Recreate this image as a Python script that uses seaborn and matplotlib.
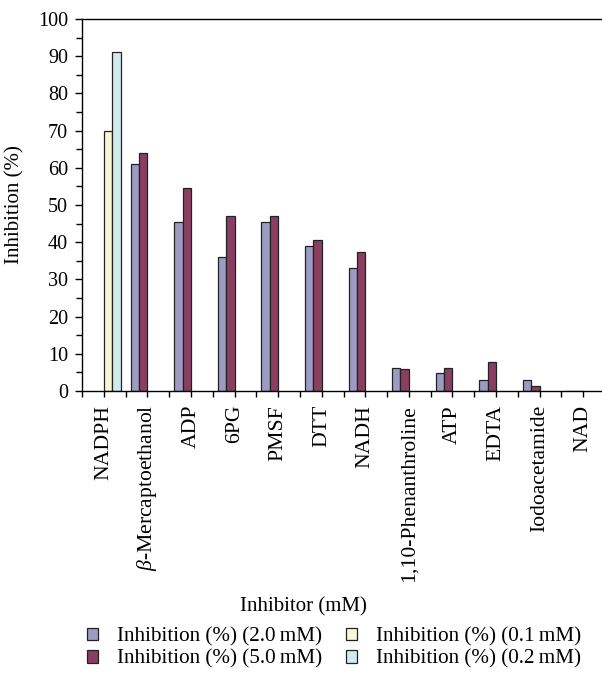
from __future__ import annotations

import matplotlib
matplotlib.use("Agg")
import matplotlib.pyplot as plt
import numpy as np
import pandas as pd
import seaborn as sns
from matplotlib.ticker import MultipleLocator

# --- data --------------------------------------------------------------
inhibitors = [
    "NADPH", r"$\beta$-Mercaptoethanol", "ADP", "6PG", "PMSF", "DTT", "NADH",
    "1,10-Phenanthroline", "ATP", "EDTA", "Iodoacetamide", "NAD",
]
series_names = [
    "Inhibition (%) (2.0\u2009mM)",
    "Inhibition (%) (5.0\u2009mM)",
    "Inhibition (%) (0.1\u2009mM)",
    "Inhibition (%) (0.2\u2009mM)",
]
nan = np.nan
inhib_2_0mM = [nan, 61.0, 45.5, 36.0, 45.5, 39.0, 33.0, 6.3, 4.8, 3.0, 3.0, 0.0]
inhib_5_0mM = [nan, 64.0, 54.7, 47.0, 47.0, 40.5, 37.5, 6.0, 6.3, 7.8, 1.4, 0.0]
inhib_0_1mM = [70.0, nan, nan, nan, nan, nan, nan, nan, nan, nan, nan, nan]
inhib_0_2mM = [91.0, nan, nan, nan, nan, nan, nan, nan, nan, nan, nan, nan]

colors = ["#9595c9", "#963262", "#fdfbd0", "#cdeef0"]


def build_frame() -> pd.DataFrame:
    rows = []
    for name, values in zip(series_names,
                            [inhib_2_0mM, inhib_5_0mM, inhib_0_1mM, inhib_0_2mM]):
        for inh, v in zip(inhibitors, values):
            rows.append({"Inhibitor": inh, "Series": name, "Inhibition": v})
    return pd.DataFrame(rows)


def set_style() -> None:
    sns.set_theme(style="ticks")
    plt.rcParams.update({
        "font.family": ["Liberation Serif", "DejaVu Serif"],
        "mathtext.fontset": "custom",
        "mathtext.rm": "Liberation Serif",
        "mathtext.it": "Liberation Serif:italic",
        "axes.linewidth": 1.0,
        "axes.edgecolor": "black",
        "text.color": "black",
        "axes.labelcolor": "black",
        "xtick.color": "black",
        "ytick.color": "black",
    })


def build_figure(df: pd.DataFrame) -> plt.Figure:
    fig = plt.figure(figsize=(6.02, 6.76), dpi=100)
    ax = fig.add_axes([82 / 602, 285 / 676, 523 / 602, 372 / 676])

    sns.barplot(
        data=df, x="Inhibitor", y="Inhibition", hue="Series",
        order=inhibitors, hue_order=series_names, palette=colors,
        width=0.77, edgecolor="#222222", linewidth=0.9, ax=ax,
    )

    ax.set_xlim(-0.5, len(inhibitors) - 0.5)
    ax.set_ylim(0, 100)
    ax.yaxis.set_major_locator(MultipleLocator(10))
    ax.yaxis.set_minor_locator(MultipleLocator(5))
    ax.set_xticks(np.arange(len(inhibitors)))
    ax.set_xticks(np.arange(-0.5, len(inhibitors), 1.0), minor=True)
    ax.set_xticklabels(inhibitors, rotation=90, fontsize=15.6)
    ax.tick_params(axis="y", which="major", length=5, width=1, labelsize=14.5, pad=5)
    ax.tick_params(axis="y", which="minor", length=4, width=1)
    ax.tick_params(axis="x", which="both", length=4, width=1, pad=6)

    ax.set_xlabel("")
    ax.set_ylabel("Inhibition (%)", fontsize=15, labelpad=10)
    fig.text(303 / 602, 1 - 607 / 676, "Inhibitor (mM)", ha="center",
             va="center", fontsize=15)

    handles, labels = ax.get_legend_handles_labels()
    ax.legend_.remove()
    fig.legend(
        handles, labels, ncol=2, loc="center", bbox_to_anchor=(334 / 602, 1 - 648 / 676),
        frameon=False, fontsize=15.2, handlelength=0.55, handleheight=0.55,
        handletextpad=0.9, columnspacing=1.1, labelspacing=0.15,
    )
    return fig


def main() -> None:
    set_style()
    df = build_frame()
    fig = build_figure(df)
    fig.savefig("out.png", dpi=100, facecolor="white")


if __name__ == "__main__":
    main()
